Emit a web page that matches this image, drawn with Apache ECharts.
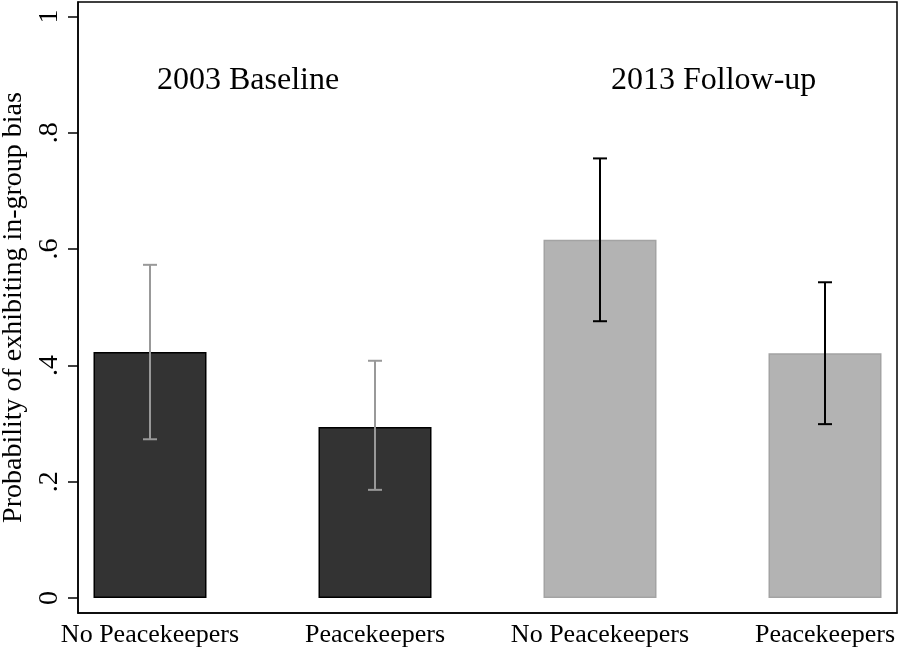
<!DOCTYPE html>
<html>
<head>
<meta charset="utf-8">
<script src="https://cdn.jsdelivr.net/npm/echarts@6/dist/echarts.min.js"></script>
<style>
  html, body { margin: 0; padding: 0; background: #fff; }
  #chart { width: 899px; height: 649px; }
</style>
</head>
<body>
<div id="chart"></div>
<script>
// data
const categories = ['No Peacekeepers', 'Peacekeepers', 'No Peacekeepers', 'Peacekeepers']
const positions = [1, 2, 3, 4]
const probs = [0.423, 0.294, 0.616, 0.421]
const ciLow = [0.273, 0.186, 0.476, 0.299]
const ciHigh = [0.573, 0.408, 0.756, 0.543]
const yTicks = [0, 0.2, 0.4, 0.6, 0.8, 1]
const yTickLabels = ['0', '.2', '.4', '.6', '.8', '1']
const groupLabels = ['2003 Baseline', '2013 Follow-up']

const serif = '"Liberation Serif", "DejaVu Serif", serif'
const barFill = ['#333333', '#333333', '#b3b3b3', '#b3b3b3']
const barEdge = ['#000000', '#000000', '#a3a3a3', '#a3a3a3']
const errColor = ['#999999', '#999999', '#000000', '#000000']

const chart = echarts.init(document.getElementById('chart'))
chart.setOption({
  animation: false,
  grid: {
    left: 78, right: 2, top: 2, bottom: 36,
    outerBoundsMode: 'none',
    containLabel: false,
    show: true, borderColor: '#000', borderWidth: 1.5
  },
  graphic: [
    { type: 'text', left: 157, top: 65, style: { text: groupLabels[0], font: '32px ' + serif, fill: '#000' } },
    { type: 'text', left: 611, top: 65, style: { text: groupLabels[1], font: '32px ' + serif, fill: '#000' } }
  ],
  xAxis: {
    type: 'value',
    min: 0.68,
    max: 4.32,
    splitLine: { show: false },
    axisLine: { show: true, onZero: false, lineStyle: { color: '#000', width: 1.5 } },
    axisTick: { show: false },
    axisLabel: {
      customValues: positions,
      formatter: v => categories[positions.indexOf(Math.round(v))] || '',
      color: '#000',
      fontFamily: serif,
      fontSize: 26,
      margin: 9
    }
  },
  yAxis: {
    type: 'value',
    min: -0.0258,
    max: 1.025,
    name: 'Probability of exhibiting in-group bias',
    nameLocation: 'middle',
    nameRotate: 90,
    nameGap: 46,
    nameTextStyle: { color: '#000', fontFamily: serif, fontSize: 28 },
    splitLine: { show: false },
    axisLine: { show: true, onZero: false, lineStyle: { color: '#000', width: 1.5 } },
    axisTick: { show: true, customValues: yTicks, length: 10, lineStyle: { color: '#000', width: 1.5 } },
    axisLabel: {
      customValues: yTicks,
      formatter: v => yTickLabels[yTicks.findIndex(t => Math.abs(t - v) < 1e-6)],
      rotate: 90,
      color: '#000',
      fontFamily: serif,
      fontSize: 28,
      margin: 14
    }
  },
  series: [
    {
      type: 'bar',
      barWidth: 113,
      data: positions.map((x, i) => ({
        value: [x, probs[i]],
        itemStyle: { color: barFill[i], borderColor: barEdge[i], borderWidth: 1.5 }
      }))
    },
    {
      type: 'custom',
      z: 5,
      data: positions.map((x, i) => [x, ciLow[i], ciHigh[i], i]),
      renderItem: function (params, api) {
        const x = api.value(0)
        const lo = api.coord([x, api.value(1)])
        const hi = api.coord([x, api.value(2)])
        const c = errColor[api.value(3)]
        const half = 7
        const style = { stroke: c, lineWidth: 2 }
        return {
          type: 'group',
          children: [
            { type: 'line', shape: { x1: lo[0], y1: lo[1], x2: hi[0], y2: hi[1] }, style },
            { type: 'line', shape: { x1: hi[0] - half, y1: hi[1], x2: hi[0] + half, y2: hi[1] }, style },
            { type: 'line', shape: { x1: lo[0] - half, y1: lo[1], x2: lo[0] + half, y2: lo[1] }, style }
          ]
        }
      }
    }
  ]
})
</script>
</body>
</html>
